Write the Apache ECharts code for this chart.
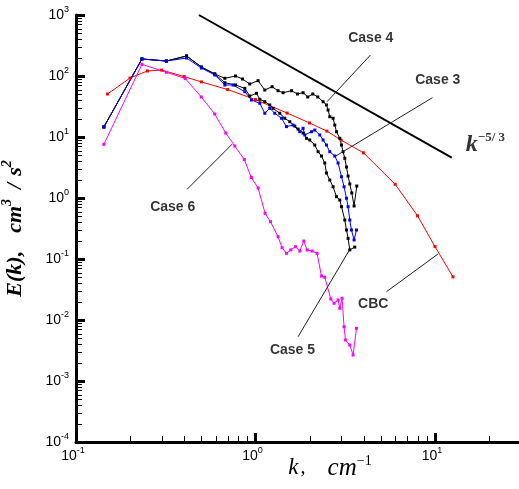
<!DOCTYPE html>
<html><head><meta charset="utf-8">
<script src="https://cdn.jsdelivr.net/npm/echarts@6/dist/echarts.min.js"></script>
<style>html,body{margin:0;padding:0;background:#fff}#c{width:519px;height:489px}</style>
</head><body><div id="c"></div>
<script>
// ---- data ----
const case4K = [0.143,0.233,0.319,0.413,0.500,0.593,0.675,0.774,0.846,0.929,1.034,1.127,1.237,1.336,1.425,1.587,1.714,1.842,1.956,2.086,2.224,2.381,2.486,2.538,2.594,2.706,2.766,2.827,2.949,3.015,3.076,3.145,3.213,3.281,3.353,3.440,3.543,3.668];
const case4E = [14.6,190,176,213,140,108,91.7,100,89.3,74.0,83.8,58.9,66.8,57.4,53.2,57.4,50.7,53.2,45.3,50.7,45.3,37.9,33.5,27.7,21.5,20.3,15.7,12.2,9.52,7.39,5.74,4.48,3.22,2.29,1.70,1.21,0.74,1.57];
const case5K = [0.143,0.233,0.319,0.413,0.500,0.593,0.675,0.774,0.872,0.929,1.013,1.057,1.127,1.201,1.253,1.366,1.456,1.553,1.656,1.727,1.842,1.923,2.006,2.140,2.233,2.332,2.432,2.486,2.594,2.706,2.827,2.949,3.015,3.145,3.213,3.281,3.353,3.575];
const case5E = [14.6,190,176,213,140,108,77.6,71.2,62.8,47.0,52.0,41.5,37.9,33.5,29.5,24.5,20.3,17.8,15.1,13.5,11.6,9.52,8.93,7.39,5.74,4.88,3.75,2.57,1.97,1.53,1.05,0.927,0.72,0.436,0.299,0.218,0.141,0.157];
const case3K = [0.143,0.233,0.319,0.413,0.500,0.593,0.675,0.750,0.872,0.950,1.057,1.127,1.201,1.281,1.396,1.488,1.620,1.765,1.842,1.882,2.051,2.140,2.281,2.381,2.486,2.594,2.766,2.885,3.015,3.116,3.213,3.281,3.353,3.426,3.543,3.654];
const case3E = [14.6,190,176,197,135,104,71.2,71.2,55.3,40.4,35.7,24.5,29.5,24.5,20.3,14.8,15.7,12.2,13.9,10.8,12.2,13.0,10.8,8.93,7.39,5.74,4.88,3.75,2.23,1.53,0.99,0.72,0.436,0.299,0.205,0.299];
const case6K = [0.143,0.233,0.319,0.406,0.499,0.593,0.683,0.767,0.866,0.948,1.034,1.131,1.212,1.336,1.406,1.488,1.573,1.671,1.765,1.858,1.939,2.067,2.204,2.332,2.432,2.628,2.741,2.885,2.949,3.038,3.116,3.173,3.353,3.498,3.654];
const case6E = [7.59,155,115,91.0,45.3,23.8,11.6,7.12,4.28,2.17,1.46,0.561,0.409,0.232,0.153,0.124,0.141,0.159,0.135,0.197,0.141,0.135,0.124,0.0526,0.0501,0.0221,0.0188,0.0213,0.0156,0.0227,0.00776,0.0047,0.00389,0.00267,0.00731];
const cbcK = [0.15,0.2,0.25,0.3,0.4,0.5,0.7,1.0,1.5,2.0,2.5,3.0,4.0,6.0,8.0,10.0,12.6];
const cbcE = [50.7,92.7,121,125,98,80,60,41,24.7,17,12.5,8.9,5.5,1.68,0.51,0.16,0.051];
const slopeK = [0.484, 12.4];
const slopeE = [1000, 4.6];
// annotation labels and their leader lines (data coordinates)
const annoNames = ['Case 4','Case 3','Case 6','CBC','Case 5'];
const annoTextK = [4.39, 10.37, 0.346, 4.53, 1.607];
const annoTextE = [420, 86, 0.711, 0.01795, 0.00326];
const leaderFromK = [4.373, 9.68, 0.416, 5.368, 1.727];
const leaderFromE = [221, 44.1, 1.39, 0.0291, 0.00532];
const leaderToK = [2.505, 2.802, 0.7426, 10.41, 3.311];
const leaderToE = [37.9, 4.88, 7.68, 0.121, 0.135];
const slopeLabelK = 14.85, slopeLabelE = 7.39;
// axes
const xMin = 0.1, xMax = 30, yMin = 1e-4, yMax = 1e3;
const minorMantissas = [2,3,4,5,6,7,8,9];
const xDecades = [-1,0,1];
const yDecades = [-4,-3,-2,-1,0,1,2];

const zip = (a,b) => a.map((v,i)=>[v,b[i]]);
const minorY = []; yDecades.forEach(d => minorMantissas.forEach(m => minorY.push([xMin, m*Math.pow(10,d)])));
const minorX = []; xDecades.forEach(d => minorMantissas.forEach(m => { const v=m*Math.pow(10,d); if (v < xMax) minorX.push([v, yMin]); }));

const SANS = 'Arial, "Liberation Sans", sans-serif';
const SERIF = '"Times New Roman", "Liberation Serif", serif';
const labelRich = {
  b: {fontSize:14, fontFamily:SANS, color:'#000', lineHeight:20, verticalAlign:'middle'},
  s: {fontSize:9, fontFamily:SANS, color:'#000', lineHeight:9, verticalAlign:'top'}
};
function powLabel(v){
  const l = Math.log10(v), n = Math.round(l);
  if (Math.abs(l-n) > 1e-6) return '';
  return '{b|10}{s|' + n + '}';
}

const chart = echarts.init(document.getElementById('c'), null, {renderer:'canvas'});
function curve(name, k, e, color){
  return {type:'line', name, data: zip(k,e), symbol:'rect', symbolSize:3, showAllSymbol:true,
    lineStyle:{color, width:1}, itemStyle:{color}, animation:false, z:3, silent:true};
}
const titleE = {fontFamily:SERIF, fontStyle:'italic', fontWeight:'bold', fontSize:22, color:'#000', lineHeight:30, verticalAlign:'middle'};
const titleS = {fontFamily:SERIF, fontStyle:'italic', fontWeight:'bold', fontSize:14, color:'#000', lineHeight:14, verticalAlign:'top'};
const option = {
  animation:false,
  backgroundColor:'#fff',
  grid:{left:76, top:15, width:444.6, height:427, containLabel:false, outerBoundsMode:'none'},
  xAxis:{type:'log', logBase:10, min:xMin, max:xMax,
    axisLine:{lineStyle:{color:'#000', width:3}},
    axisTick:{inside:true, length:9, lineStyle:{color:'#000', width:3}},
    splitLine:{show:false}, minorTick:{show:false},
    axisLabel:{margin:4, formatter:powLabel, rich:labelRich, padding:[0,6,0,0], showMinLabel:true, showMaxLabel:false, hideOverlap:false}},
  yAxis:{type:'log', logBase:10, min:yMin, max:yMax,
    axisLine:{lineStyle:{color:'#000', width:3}},
    axisTick:{inside:true, length:9, lineStyle:{color:'#000', width:3}},
    splitLine:{show:false}, minorTick:{show:false},
    axisLabel:{margin:7, formatter:powLabel, rich:labelRich, showMinLabel:true, showMaxLabel:true, hideOverlap:false},
    name:'{e|E(k),}{g|cm}{s|3}{h|/}{t|s}{s|2}', nameLocation:'middle', nameRotate:90, nameGap:46,
    nameTextStyle:{rich:{
      e:titleE,
      g:Object.assign({}, titleE, {padding:[0,0,0,18]}),
      h:Object.assign({}, titleE, {padding:[0,7,0,10]}),
      t:titleE,
      s:titleS
    }}},
  series:[
    {type:'custom', name:'minorY', data:minorY, clip:false, silent:true, z:5,
      renderItem:(p, api)=>{ const c = api.coord([api.value(0), api.value(1)]);
        const y = Math.round(c[1])+0.5;
        return {type:'line', shape:{x1:c[0], y1:y, x2:c[0]+6, y2:y}, style:{stroke:'#000', lineWidth:1}}; }},
    {type:'custom', name:'minorX', data:minorX, clip:false, silent:true, z:5,
      renderItem:(p, api)=>{ const c = api.coord([api.value(0), api.value(1)]);
        const x = Math.round(c[0])+0.5;
        return {type:'line', shape:{x1:x, y1:c[1], x2:x, y2:c[1]-6}, style:{stroke:'#000', lineWidth:1}}; }},
    {type:'line', name:'slope', data:zip(slopeK, slopeE), symbol:'none', lineStyle:{color:'#000', width:2}, silent:true, z:2},
    curve('CBC', cbcK, cbcE, '#ff0000'),
    curve('Case 6', case6K, case6E, '#ff00ff'),
    curve('Case 4', case4K, case4E, '#000000'),
    curve('Case 5', case5K, case5E, '#000000'),
    curve('Case 3', case3K, case3E, '#0000ff'),
    {type:'lines', coordinateSystem:'cartesian2d', silent:true, z:4,
      lineStyle:{color:'#222', width:1, opacity:1},
      data: annoNames.map((n,i)=>({coords:[[leaderFromK[i], leaderFromE[i]],[leaderToK[i], leaderToE[i]]]}))},
    {type:'scatter', name:'labels', symbolSize:0, silent:true, z:6,
      label:{show:true, position:'inside', formatter:'{b}', color:'#000', fontFamily:SANS, fontWeight:'bold', fontSize:14},
      data: annoNames.map((n,i)=>({name:n, value:[annoTextK[i], annoTextE[i]]})).concat([{
        name:'slope', value:[slopeLabelK, slopeLabelE],
        label:{show:true, position:'inside', align:'left', formatter:'{k|k}{s|\u22125/ 3}',
          rich:{k:{fontFamily:SERIF, fontStyle:'italic', fontSize:24, color:'#000', lineHeight:28, verticalAlign:'middle'},
                s:{fontFamily:SERIF, fontSize:13, color:'#000', lineHeight:13, verticalAlign:'top'}}}}])}
  ],
  graphic:[{type:'text', x:330, y:468, silent:true, style:{
    text:'{k|k}{p|,}{c|cm}{s|\u22121}', align:'center', verticalAlign:'middle',
    rich:{k:{fontFamily:SERIF, fontStyle:'italic', fontSize:23, color:'#000', lineHeight:28, verticalAlign:'middle'},
          p:{fontFamily:SERIF, fontSize:20, color:'#000', lineHeight:28, verticalAlign:'middle', padding:[0,22,0,2]},
          c:{fontFamily:SERIF, fontStyle:'italic', fontSize:25, color:'#000', lineHeight:28, verticalAlign:'middle'},
          s:{fontFamily:SERIF, fontSize:14, color:'#000', lineHeight:14, verticalAlign:'top'}}}}]
};
chart.setOption(option);
</script></body></html>
